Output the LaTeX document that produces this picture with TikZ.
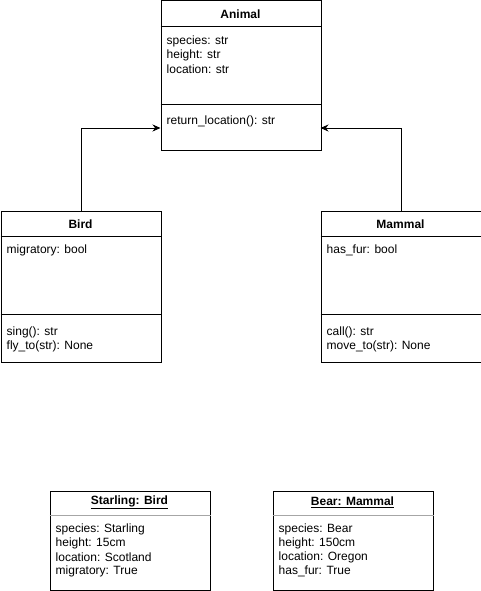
\documentclass[tikz,border=0pt]{standalone}
\usepackage{fontspec}
\setmainfont{Liberation Sans}
\usetikzlibrary{arrows.meta,calc}
\begin{document}
\begin{tikzpicture}[x=1pt,y=-1pt,
  umlbox/.style={draw,line width=1pt,inner sep=0pt,anchor=north west,minimum width=160pt},
  txt/.style={anchor=west,inner sep=0pt,font=\fontsize{12}{14}\selectfont},
  hdr/.style={inner sep=0pt,font=\fontsize{12}{14}\selectfont\bfseries},
  divider/.style={line width=1pt},
  gdivider/.style={line width=1pt,draw=gray!70},
  inherit/.style={line width=1pt,-{Stealth[length=8pt,width=7pt]}}]
\useasboundingbox (0,0) rectangle (481,591);
% Animal
\node[umlbox,minimum height=149pt] (animal) at (160.5,0.5) {};
\node[hdr] (animalh) at (240.5,14) {Animal};
\draw[divider] ($(animal.north west)+(0,26)$) -- ($(animal.north east)+(0,26)$);
\node[txt] (a1) at (166.5,41) {species: str};
\node[txt] (a2) at (166.5,55) {height: str};
\node[txt] (a3) at (166.5,69) {location: str};
\draw[divider] ($(animal.north west)+(0,104)$) -- ($(animal.north east)+(0,104)$);
\node[txt] (a4) at (166.5,121) {return\_location(): str};
% Bird
\node[umlbox,minimum height=151pt] (bird) at (0.5,210.5) {};
\node[hdr] (birdh) at (80.5,224) {Bird};
\draw[divider] ($(bird.north west)+(0,26)$) -- ($(bird.north east)+(0,26)$);
\node[txt] (b1) at (6.5,250) {migratory: bool};
\draw[divider] ($(bird.north west)+(0,104)$) -- ($(bird.north east)+(0,104)$);
\node[txt] (b2) at (6.5,332) {sing(): str};
\node[txt] (b3) at (6.5,346) {fly\_to(str): None};
% Mammal
\node[umlbox,minimum height=151pt] (mammal) at (320.5,210.5) {};
\node[hdr] (mammalh) at (400.5,224) {Mammal};
\draw[divider] ($(mammal.north west)+(0,26)$) -- ($(mammal.north east)+(0,26)$);
\node[txt] (m1) at (326.5,250) {has\_fur: bool};
\draw[divider] ($(mammal.north west)+(0,104)$) -- ($(mammal.north east)+(0,104)$);
\node[txt] (m2) at (326.5,332) {call(): str};
\node[txt] (m3) at (326.5,346) {move\_to(str): None};
% Inheritance arrows
\coordinate (aleft) at (160.5,128);
\coordinate (aright) at (320.5,128);
\draw[inherit] (bird.north) |- (aleft);
\draw[inherit] (mammal.north) |- (aright);
% Starling
\node[umlbox,minimum height=99pt] (starling) at (49.5,490.5) {};
\node[hdr] (starlingh) at (129.5,502) {\underline{Starling: Bird}};
\draw[gdivider] ($(starling.north west)+(0,25)$) -- ($(starling.north east)+(0,25)$);
\node[txt] (s1) at (55.5,529) {species: Starling};
\node[txt] (s2) at (55.5,543) {height: 15cm};
\node[txt] (s3) at (55.5,557) {location: Scotland};
\node[txt] (s4) at (55.5,571) {migratory: True};
% Bear
\node[umlbox,minimum height=99pt] (bear) at (272.5,490.5) {};
\node[hdr] (bearh) at (352.5,502) {\underline{Bear: Mammal}};
\draw[gdivider] ($(bear.north west)+(0,25)$) -- ($(bear.north east)+(0,25)$);
\node[txt] (r1) at (278.5,529) {species: Bear};
\node[txt] (r2) at (278.5,543) {height: 150cm};
\node[txt] (r3) at (278.5,557) {location: Oregon};
\node[txt] (r4) at (278.5,571) {has\_fur: True};
\end{tikzpicture}
\end{document}
